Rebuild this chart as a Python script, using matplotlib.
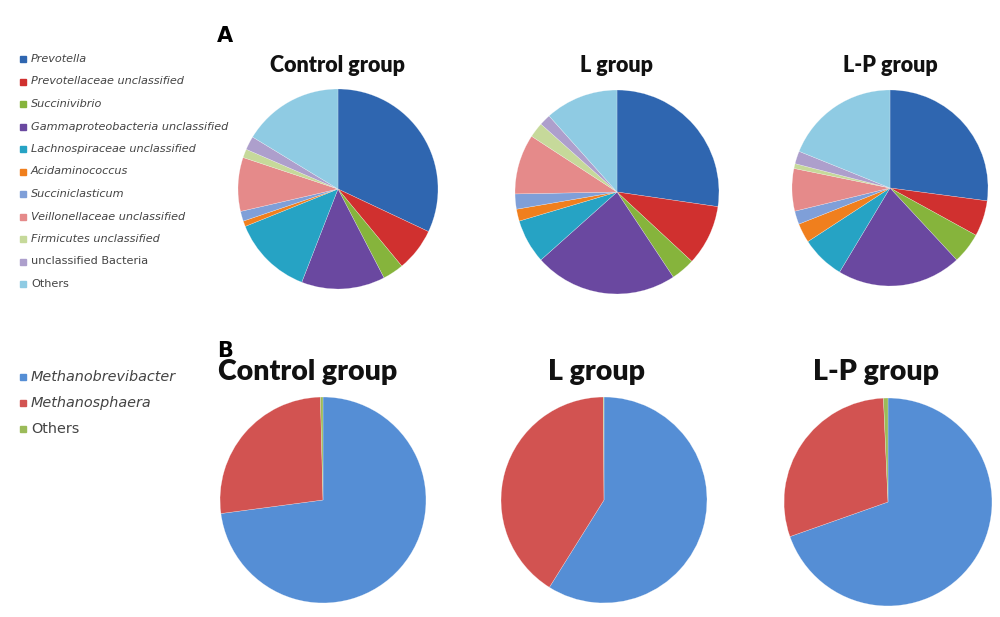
import matplotlib
matplotlib.use("Agg")
import matplotlib.pyplot as plt
from matplotlib.patches import Rectangle

# panel A: bacterial genera (% of reads)
bact_names = ["Prevotella", "Prevotellaceae unclassified", "Succinivibrio",
              "Gammaproteobacteria unclassified", "Lachnospiraceae unclassified",
              "Acidaminococcus", "Succiniclasticum", "Veillonellaceae unclassified",
              "Firmicutes unclassified", "unclassified Bacteria", "Others"]
bact_italic = [True] * 9 + [False, False]
bact_control = [32.0, 7.0, 3.4, 13.5, 13.0, 0.9, 1.6, 8.7, 1.4, 2.2, 16.3]
bact_l = [27.3, 9.6, 3.8, 22.7, 7.0, 1.9, 2.4, 9.5, 2.4, 1.8, 11.6]
bact_lp = [27.1, 5.9, 5.1, 20.5, 7.2, 3.2, 2.2, 7.0, 0.8, 2.1, 18.9]

# panel B: archaea
arch_names = ["Methanobrevibacter", "Methanosphaera", "Others"]
arch_italic = [True, True, False]
arch_control = [72.9, 26.7, 0.4]
arch_l = [58.9, 41.0, 0.1]
arch_lp = [69.6, 29.7, 0.7]

groups = ["Control group", "L group", "L-P group"]

bact_colors = ["#2f66b0", "#d0302f", "#86b43c", "#6a48a0", "#26a3c4",
               "#f07f1d", "#7f9fd8", "#e58a8a", "#c6d99a", "#ad9fcc", "#8fcbe3"]
arch_colors = ["#558ed5", "#d25351", "#9bbb59"]

W, H = 1000, 617
fig = plt.figure(figsize=(W / 100, H / 100), dpi=100)
fig.patch.set_facecolor("white")

# overlay axes in pixel coordinates for labels and legends
ov = fig.add_axes([0, 0, 1, 1])
ov.set_xlim(0, W)
ov.set_ylim(H, 0)
ov.axis("off")


def pie_at(cx, cy, r, vals, colors):
    ax = fig.add_axes([(cx - r) / W, 1 - (cy + r) / H, 2 * r / W, 2 * r / H])
    ax.pie(vals, colors=colors, startangle=90, counterclock=False,
           wedgeprops=dict(linewidth=0.3, edgecolor="#ffffff80"))
    ax.set_xlim(-1.01, 1.01)
    ax.set_ylim(-1.01, 1.01)
    return ax


# panel A
pie_at(338, 189, 101, bact_control, bact_colors)
pie_at(617, 192, 103, bact_l, bact_colors)
pie_at(890, 188, 99, bact_lp, bact_colors)

# panel B
pie_at(323, 500, 104, arch_control, arch_colors)
pie_at(604, 500, 104, arch_l, arch_colors)
pie_at(888, 502, 105, arch_lp, arch_colors)

title_font = dict(family="Lato", weight="heavy", color="#111111", ha="center", va="baseline")
for x, g in zip([338, 617, 890], groups):
    ov.text(x, 72, g, fontsize=15.5, **title_font)
for x, g in zip([308, 597, 876], groups):
    ov.text(x, 380, g, fontsize=20.5, **title_font)

ov.text(217, 42, "A", fontsize=15, fontweight="bold", family="DejaVu Sans", va="baseline")
ov.text(217, 357, "B", fontsize=15, fontweight="bold", family="DejaVu Sans", va="baseline")

# legend A
for i, (name, col, it) in enumerate(zip(bact_names, bact_colors, bact_italic)):
    y = 59 + i * 22.5
    ov.add_patch(Rectangle((19.5, y - 3), 6, 6, color=col))
    ov.text(31, y, name, fontsize=8.1, style="italic" if it else "normal",
            color="#444444", va="center", family="DejaVu Sans")

# legend B
for i, (name, col, it) in enumerate(zip(arch_names, arch_colors, arch_italic)):
    y = 377 + i * 26
    ov.add_patch(Rectangle((19.5, y - 3), 6, 6, color=col))
    ov.text(31, y, name, fontsize=10.4, style="italic" if it else "normal",
            color="#444444", va="center", family="DejaVu Sans")

fig.savefig("out.png", dpi=100, facecolor="white")
